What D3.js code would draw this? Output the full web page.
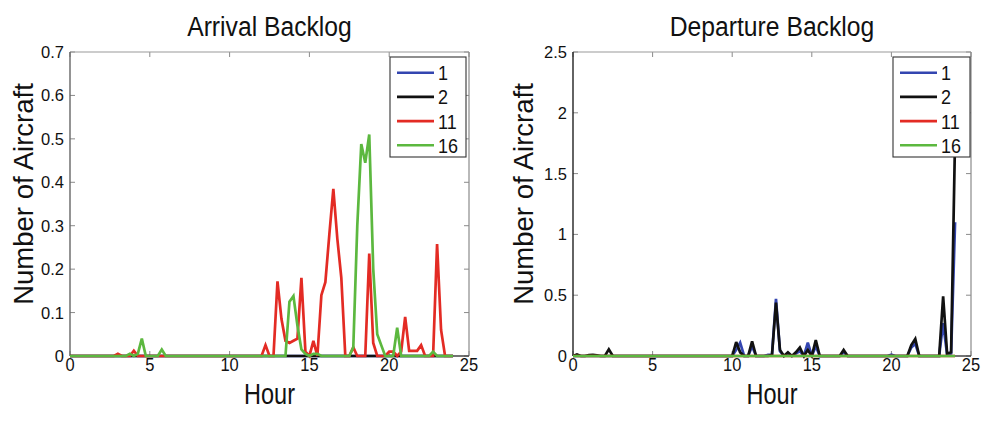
<!DOCTYPE html>
<html>
<head>
<meta charset="utf-8">
<script src="https://cdn.jsdelivr.net/npm/d3@7"></script>
<style>
  html, body { margin: 0; padding: 0; background: #fff; }
  svg { display: block; }
  text { font-family: "Liberation Sans", Arial, Helvetica, sans-serif; fill: #111; }
</style>
</head>
<body>
<svg id="chart" width="981" height="424"></svg>
<script>
// Time axis: quarter-hour samples from hour 0 to hour 24
const hours = d3.range(0, 97).map(i => i / 4);

// Legend names for the four series
const seriesNames = ["1", "2", "11", "16"];
const seriesColors = ["#3345b0", "#111111", "#e32b24", "#5cb83f"];

// Arrival backlog, number of aircraft per series
const arrivalS1 = [
  0,0,0,0,0,0,0,0, 0,0,0,0,0,0,0,0, 0,0,0,0,0,0,0,0, 0,0,0,0,0,0,0,0,
  0,0,0,0,0,0,0,0, 0,0,0,0,0,0,0,0, 0,0,0,0,0,0,0,0, 0,0,0,0,0,0,0,0,
  0,0,0,0,0,0,0,0, 0,0,0,0,0,0,0,0, 0,0,0,0,0,0,0,0, 0,0,0,0,0,0,0,0,
  0
];
const arrivalS2 = [
  0,0,0,0,0,0,0,0, 0,0,0,0,0,0,0,0, 0,0,0,0,0,0,0,0, 0,0,0,0,0,0,0,0,
  0,0,0,0,0,0,0,0, 0,0,0,0,0,0,0,0, 0,0,0,0,0,0,0,0, 0,0,0,0,0,0,0,0,
  0,0,0,0,0,0,0,0, 0,0,0,0,0,0,0,0, 0,0,0,0,0,0,0,0, 0,0,0,0,0,0,0,0,
  0
];
const arrivalS11 = [
  0,0,0,0,0,0,0,0,
  0,0,0,0,0.005,0,0,0,
  0.012,0,0,0,0,0,0,0,
  0,0,0,0,0,0,0,0,
  0,0,0,0,0,0,0,0,
  0,0,0,0,0,0,0,0,
  0,0.025,0,0,0.172,0.085,0.035,0.03,
  0.035,0.04,0.18,0.01,0,0.035,0,0.14,
  0.17,0.28,0.385,0.27,0.18,0,0,0.02,
  0,0,0,0.236,0.03,0,0,0,
  0.01,0.01,0,0.01,0.09,0.012,0.012,0.012,
  0.025,0,0,0,0.258,0.06,0,0,
  0
];
const arrivalS16 = [
  0,0,0,0,0,0,0,0,
  0,0,0,0,0,0,0,0.005,
  0,0.005,0.04,0,0,0,0,0.015,
  0,0,0,0,0,0,0,0,
  0,0,0,0,0,0,0,0,
  0,0,0,0,0,0,0,0,
  0,0,0,0,0,0,0,0.125,
  0.138,0.07,0.015,0.005,0,0.005,0.005,0,
  0,0,0,0,0,0,0,0.02,
  0.3,0.488,0.445,0.51,0.2,0.05,0.025,0,
  0,0,0.065,0,0,0,0,0,
  0,0,0,0.01,0,0,0,0,
  0
];

// Departure backlog, number of aircraft per series
const departureS1 = [
  0,0,0,0,0,0,0,0,
  0,0,0,0,0,0,0,0,
  0,0,0,0,0,0,0,0,
  0,0,0,0,0,0,0,0,
  0,0,0,0,0,0,0,0,
  0,0.05,0.11,0,0,0.08,0,0,
  0,0.01,0.01,0.47,0.04,0,0.02,0,
  0.02,0.04,0,0.11,0,0.08,0,0,
  0,0,0,0,0.03,0,0,0,
  0,0,0,0,0,0,0,0,
  0.01,0,0,0,0,0.07,0.1,0,
  0,0,0,0,0,0.27,0.01,0.02,
  1.1
];
const departureS2 = [
  0,0.012,0,0,0.008,0.01,0.005,0,
  0,0.055,0,0,0,0,0,0,
  0,0,0,0,0,0,0,0,
  0,0,0,0,0,0,0,0,
  0,0,0,0,0,0,0,0,
  0,0.115,0.03,0,0,0.12,0,0,
  0,0,0.01,0.44,0.05,0,0.03,0,
  0.03,0.07,0,0.05,0,0.13,0,0,
  0,0,0,0,0.05,0,0,0,
  0,0,0,0,0,0,0,0,
  0,0,0,0,0,0.09,0.14,0,
  0,0,0,0,0,0.49,0.02,0.03,
  1.8
];
const departureS11 = [
  0,0,0,0,0,0,0,0, 0,0,0,0,0,0,0,0, 0,0,0,0,0,0,0,0, 0,0,0,0,0,0,0,0,
  0,0,0,0,0,0,0,0, 0,0,0,0,0,0,0,0, 0,0,0,0,0,0,0,0, 0,0,0,0,0,0,0,0,
  0,0,0,0,0,0,0,0, 0,0,0,0,0,0,0,0, 0,0,0,0,0,0,0,0, 0,0,0,0,0,0,0,0,
  0
];
const departureS16 = [
  0,0,0,0,0,0,0,0, 0,0,0,0,0,0,0,0, 0,0,0,0,0,0,0,0, 0,0,0,0,0,0,0,0,
  0,0,0,0,0,0,0,0, 0,0,0,0,0,0,0,0, 0,0,0,0,0,0,0,0, 0,0,0,0,0,0,0,0,
  0,0,0,0,0,0,0,0, 0,0,0,0,0,0,0,0, 0,0,0,0,0,0,0,0, 0,0,0,0,0,0,0,0,
  0
];

// Tick values
const xTicks = [0, 5, 10, 15, 20, 25];
const arrivalYTicks = [0, 0.1, 0.2, 0.3, 0.4, 0.5, 0.6, 0.7];
const departureYTicks = [0, 0.5, 1, 1.5, 2, 2.5];

const svg = d3.select("#chart");

// Text helper with an optional vertical stretch around the anchor point
function label(g, x, y, str, opts) {
  const o = Object.assign({ size: 15, anchor: "start", sy: 1, rotate: 0 }, opts || {});
  const t = g.append("text")
    .attr("transform", `translate(${x},${y}) rotate(${o.rotate}) scale(1,${o.sy})`)
    .attr("font-size", o.size)
    .attr("text-anchor", o.anchor)
    .text(str);
  return t;
}

function panel(cfg) {
  const g = svg.append("g");
  const x = d3.scaleLinear().domain([0, 25]).range([cfg.left, cfg.right]);
  const y = d3.scaleLinear().domain([0, cfg.yMax]).range([cfg.bottom, cfg.top]);

  // Inward tick marks on all four sides
  const tickLen = 5;
  const tickG = g.append("g").attr("stroke", "#8a8a8a").attr("stroke-width", 1);
  xTicks.forEach(v => {
    tickG.append("line").attr("x1", x(v)).attr("x2", x(v)).attr("y1", cfg.bottom).attr("y2", cfg.bottom - tickLen);
    tickG.append("line").attr("x1", x(v)).attr("x2", x(v)).attr("y1", cfg.top).attr("y2", cfg.top + tickLen);
  });
  cfg.yTicks.forEach(v => {
    tickG.append("line").attr("x1", cfg.left).attr("x2", cfg.left + tickLen).attr("y1", y(v)).attr("y2", y(v));
    tickG.append("line").attr("x1", cfg.right).attr("x2", cfg.right - tickLen).attr("y1", y(v)).attr("y2", y(v));
  });

  // Box around the plot
  g.append("line").attr("x1", cfg.left).attr("x2", cfg.right).attr("y1", cfg.top).attr("y2", cfg.top)
    .attr("stroke", "#9a9a9a").attr("stroke-width", 1.2);
  g.append("line").attr("x1", cfg.right).attr("x2", cfg.right).attr("y1", cfg.top).attr("y2", cfg.bottom)
    .attr("stroke", "#8a8a8a").attr("stroke-width", 1.2);
  g.append("line").attr("x1", cfg.left).attr("x2", cfg.right).attr("y1", cfg.bottom).attr("y2", cfg.bottom)
    .attr("stroke", "#444").attr("stroke-width", 1.4);
  g.append("line").attr("x1", cfg.left).attr("x2", cfg.left).attr("y1", cfg.top).attr("y2", cfg.bottom)
    .attr("stroke", cfg.leftAxisColor).attr("stroke-width", 1.4);

  // Tick labels
  xTicks.forEach(v => label(g, x(v), 371, String(v), { size: 16.5, anchor: "middle", sy: 1.1 }));
  cfg.yTicks.forEach(v => label(g, cfg.left - 6, y(v) + 6, String(v), { size: 16.5, anchor: "end", sy: 1.05 }));

  // Series lines, drawn in legend order
  const line = d3.line().x((d, i) => x(hours[i])).y(d => y(d));
  cfg.series.forEach((vals, k) => {
    g.append("path")
      .datum(vals)
      .attr("d", line)
      .attr("fill", "none")
      .attr("stroke", seriesColors[k])
      .attr("stroke-width", 2.7)
      .attr("stroke-linejoin", "miter")
      .attr("stroke-miterlimit", 3);
  });

  // Title and axis labels
  label(g, (cfg.left + cfg.right) / 2, 36, cfg.title, { size: 24.7, anchor: "middle", sy: 1.1 });
  label(g, (cfg.left + cfg.right) / 2, 404, "Hour", { size: 23.5, anchor: "middle", sy: 1.22 });
  label(g, cfg.yLabelX, 194, "Number of Aircraft", { size: 27.5, anchor: "middle", rotate: -90 });

  // Legend
  const lg = g.append("g");
  lg.append("rect")
    .attr("x", cfg.legend.x).attr("y", 57)
    .attr("width", cfg.legend.w).attr("height", 100)
    .attr("fill", "#fff").attr("stroke", "#333").attr("stroke-width", 1.1);
  seriesNames.forEach((name, k) => {
    const ry = 72.7 + k * 24.2;
    lg.append("line")
      .attr("x1", cfg.legend.x + 7).attr("x2", cfg.legend.x + 44)
      .attr("y1", ry).attr("y2", ry)
      .attr("stroke", seriesColors[k]).attr("stroke-width", 2.6);
    label(lg, cfg.legend.x + 48, ry + 7.5, name, { size: 18, sy: 1.15 });
  });
}

panel({
  title: "Arrival Backlog",
  left: 70, right: 469, top: 52, bottom: 356,
  yMax: 0.7, yTicks: arrivalYTicks,
  series: [arrivalS1, arrivalS2, arrivalS11, arrivalS16],
  yLabelX: 33, leftAxisColor: "#666",
  legend: { x: 390, w: 76 }
});

panel({
  title: "Departure Backlog",
  left: 573, right: 971, top: 52, bottom: 356,
  yMax: 2.5, yTicks: departureYTicks,
  series: [departureS1, departureS2, departureS11, departureS16],
  yLabelX: 533, leftAxisColor: "#222",
  legend: { x: 893, w: 77 }
});
</script>
</body>
</html>
